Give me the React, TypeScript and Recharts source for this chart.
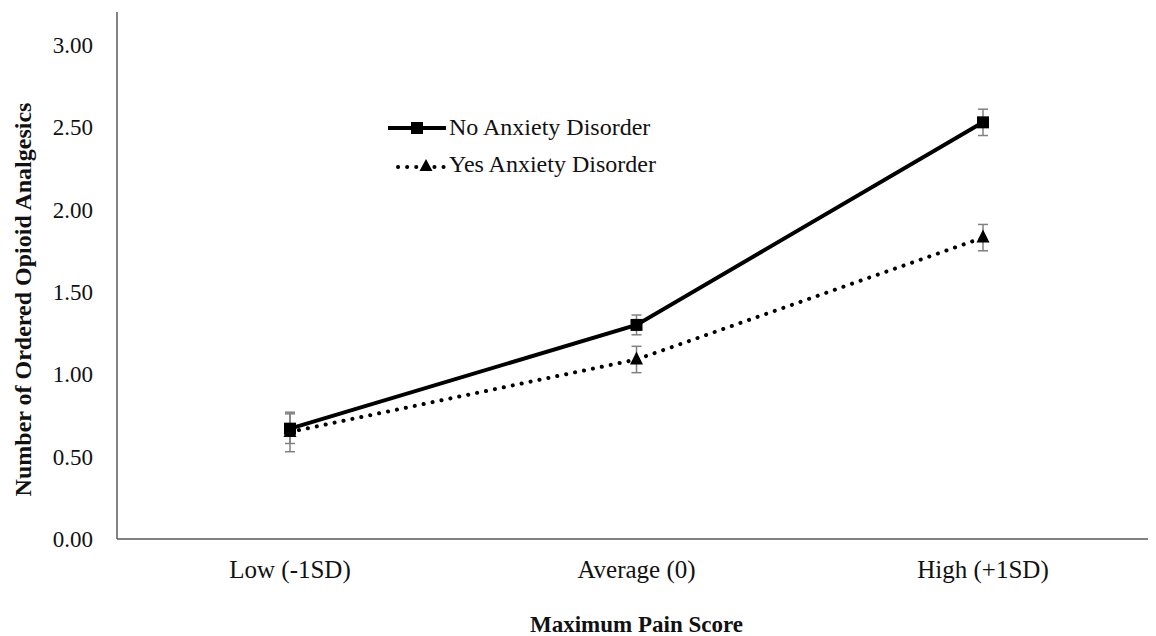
import React from "react";
import { LineChart, Line, XAxis, YAxis, ErrorBar } from "recharts";

const categories = ["Low (-1SD)", "Average (0)", "High (+1SD)"];
const noAnxiety = [0.67, 1.3, 2.53];
const noAnxietyErr = [0.09, 0.06, 0.08];
const yesAnxiety = [0.65, 1.09, 1.83];
const yesAnxietyErr = [0.12, 0.08, 0.08];
const yTicks = [0, 0.5, 1, 1.5, 2, 2.5, 3];

const FONT = "'Liberation Serif', 'DejaVu Serif', serif";
const AXIS = "#595959";

const data = categories.map((c, i) => ({
  name: c,
  no: noAnxiety[i],
  noErr: noAnxietyErr[i],
  yes: yesAnxiety[i],
  yesErr: yesAnxietyErr[i],
}));

const SquareDot = (props: any) => {
  const { cx, cy } = props;
  if (cx == null || cy == null) return null;
  return <rect x={cx - 6} y={cy - 6} width={12} height={12} fill="#000" />;
};

const TriangleDot = (props: any) => {
  const { cx, cy } = props;
  if (cx == null || cy == null) return null;
  return <polygon points={`${cx},${cy - 8} ${cx + 6.5},${cy + 5} ${cx - 6.5},${cy + 5}`} fill="#000" />;
};

function LegendBox() {
  const row = { display: "flex", alignItems: "center", height: 37 };
  const text = { fontFamily: FONT, fontSize: 24, color: "#111", marginLeft: 3, lineHeight: "37px" };
  return (
    <div style={{ position: "absolute", left: 380, top: 101 }}>
      <div style={row}>
        <svg width={58} height={16}>
          <line x1={0} y1={8} x2={58} y2={8} stroke="#000" strokeWidth={4} />
          <rect x={23} y={2} width={12} height={12} fill="#000" />
        </svg>
        <span style={text}>No Anxiety Disorder</span>
      </div>
      <div style={row}>
        <svg width={58} height={16}>
          <line x1={10} y1={10} x2={58} y2={10} stroke="#000" strokeWidth={4} strokeDasharray="0.1 9" strokeLinecap="round" />
          <polygon points="38,2 44.5,14 31.5,14" fill="#000" />
        </svg>
        <span style={text}>Yes Anxiety Disorder</span>
      </div>
    </div>
  );
}

function YLabel(props: any) {
  const { viewBox } = props;
  const x = 15;
  const y = viewBox.y + viewBox.height / 2 + 24;
  return (
    <text x={x} y={y} transform={`rotate(-90, ${x}, ${y})`} textAnchor="middle" dominantBaseline="central"
      fontFamily={FONT} fontSize={24} fontWeight="bold" fill="#111">
      Number of Ordered Opioid Analgesics
    </text>
  );
}

export default function App() {
  return (
    <div style={{ position: "relative", width: 1148, height: 628 }}>
      <LineChart width={1148} height={628} data={data} margin={{ top: 4, right: 0, bottom: 0, left: 0 }}>
        <XAxis
          dataKey="name"
          padding={{ left: 173, right: 173 }}
          axisLine={{ stroke: AXIS, strokeWidth: 1.5 }}
          tickLine={false}
          tickMargin={15}
          height={97}
          tick={{ fontFamily: FONT, fontSize: 25, fill: "#111" }}
          label={{ value: "Maximum Pain Score", position: "insideBottom", offset: 4, fontFamily: FONT, fontSize: 23, fontWeight: "bold", fill: "#111" }}
        />
        <YAxis
          domain={[0, 3.2]}
          ticks={yTicks}
          width={109}
          axisLine={{ stroke: AXIS, strokeWidth: 1.5 }}
          tickLine={false}
          tickMargin={18}
          tickFormatter={(v: number) => v.toFixed(2)}
          tick={{ fontFamily: FONT, fontSize: 23, fill: "#111" }}
          label={<YLabel />}
        />
        <Line
          dataKey="no"
          stroke="#000"
          strokeWidth={4}
          dot={<SquareDot />}
          activeDot={false}
          isAnimationActive={false}
        >
          <ErrorBar dataKey="noErr" width={5} stroke="#808080" strokeWidth={1.5} />
        </Line>
        <Line
          dataKey="yes"
          stroke="#000"
          strokeWidth={4}
          strokeDasharray="0.1 9"
          strokeLinecap="round"
          dot={<TriangleDot />}
          activeDot={false}
          isAnimationActive={false}
        >
          <ErrorBar dataKey="yesErr" width={5} stroke="#808080" strokeWidth={1.5} />
        </Line>
      </LineChart>
      <LegendBox />
    </div>
  );
}
